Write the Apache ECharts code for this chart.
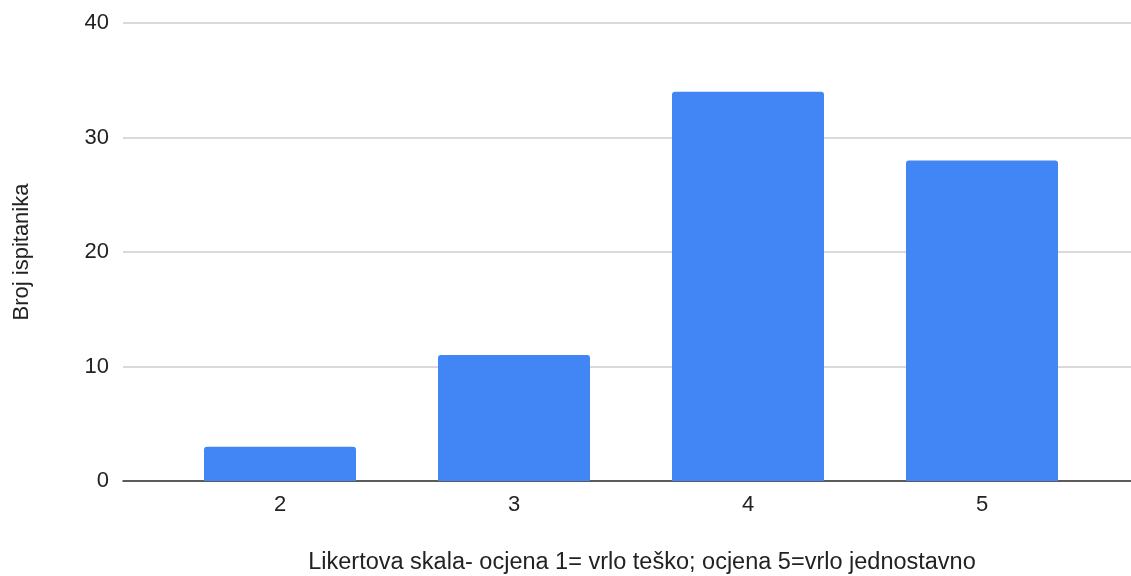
<!DOCTYPE html>
<html>
<head>
<meta charset="utf-8">
<script src="https://cdn.jsdelivr.net/npm/echarts@6/dist/echarts.min.js"></script>
<style>
html,body{margin:0;padding:0;background:#fff;}
#chart{width:1131px;height:576px;}
</style>
</head>
<body>
<div id="chart"></div>
<script>
const categories = ['2', '3', '4', '5'];
const values = [3, 11, 34, 28];
const yTicks = { min: 0, max: 40, interval: 10 };
const xTitle = 'Likertova skala- ocjena 1= vrlo teško; ocjena 5=vrlo jednostavno';
const yTitle = 'Broj ispitanika';

const font = 'Arial, "Liberation Sans", sans-serif';
const chart = echarts.init(document.getElementById('chart'), null, { renderer: 'canvas' });
chart.setOption({
  animation: false,
  backgroundColor: '#ffffff',
  textStyle: { fontFamily: font },
  grid: [
    { left: 123, right: 0, top: 23, bottom: 95, containLabel: false, outerBoundsMode: 'none' },
    { left: 163, right: 32, top: 23, bottom: 95, containLabel: false, outerBoundsMode: 'none' }
  ],
  xAxis: [
    {
      gridIndex: 0, type: 'category', data: categories,
      axisLine: { show: true, lineStyle: { color: '#333333', width: 1.5 } },
      axisTick: { show: false }, axisLabel: { show: false }, splitLine: { show: false }
    },
    {
      gridIndex: 1, type: 'category', data: categories,
      axisLine: { show: false }, axisTick: { show: false },
      axisLabel: { fontSize: 22, color: '#222222', margin: 13, fontFamily: font },
      name: xTitle, nameLocation: 'middle', nameGap: 70,
      nameTextStyle: { fontSize: 23.5, color: '#222222', fontFamily: font, padding: [0, 0, 0, 22] }
    }
  ],
  yAxis: [
    {
      gridIndex: 0, type: 'value', min: yTicks.min, max: yTicks.max, interval: yTicks.interval,
      axisLine: { show: false }, axisTick: { show: false },
      axisLabel: { fontSize: 22, color: '#222222', margin: 14, fontFamily: font },
      splitLine: { lineStyle: { color: '#cccccc', width: 1.5 } },
      name: yTitle, nameLocation: 'middle', nameGap: 90, nameRotate: 90,
      nameTextStyle: { fontSize: 22, color: '#222222', fontFamily: font }
    },
    {
      gridIndex: 1, type: 'value', min: yTicks.min, max: yTicks.max, interval: yTicks.interval,
      show: false
    }
  ],
  series: [{
    type: 'bar', xAxisIndex: 1, yAxisIndex: 1, data: values,
    barWidth: 152,
    itemStyle: { color: '#4285F4', borderRadius: [3, 3, 0, 0] },
    z: 1
  }]
});
</script>
</body>
</html>
